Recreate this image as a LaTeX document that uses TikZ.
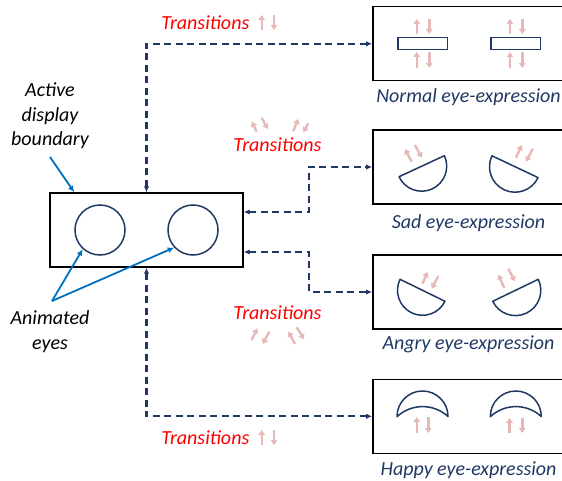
\documentclass[tikz,border=0pt]{standalone}
\usepackage{fontspec}
\setmainfont{Carlito}
\usetikzlibrary{arrows.meta,calc}
\definecolor{navy}{HTML}{203864}
\definecolor{annblue}{HTML}{0070C0}
\definecolor{tpink}{HTML}{E6B9B8}
\definecolor{tred}{HTML}{FF0000}

\begin{document}
\begin{tikzpicture}[x=1pt,y=-1pt,
  frame/.style={draw=black, line width=1.4pt, minimum width=193pt, minimum height=74pt, inner sep=0pt},
  eyering/.style={circle, draw=navy, line width=1.5pt, minimum size=50pt, inner sep=0pt},
  eyebar/.style={draw=navy, line width=1.5pt, minimum width=49.5pt, minimum height=12pt, inner sep=0pt},
  eye/.style={draw=navy, line width=1.5pt, line join=round},
  lbl/.style={font=\fontsize{20}{24.5}\selectfont\itshape, text=navy, inner sep=0pt, anchor=base},
  trn/.style={font=\fontsize{20}{24.5}\selectfont\itshape, text=tred, inner sep=0pt, anchor=base},
  note/.style={font=\fontsize{20}{24.5}\selectfont\itshape, text=black, inner sep=0pt, align=center, anchor=base},
  conn/.style={draw=navy, line width=2.2pt, dash pattern=on 7pt off 4.5pt,
    {Latex[length=6pt,width=5.5pt]}-{Latex[length=6pt,width=5.5pt]}},
  ann/.style={draw=annblue, line width=1.8pt, -{Latex[length=6.5pt,width=6pt]}},
  pk/.style={draw=tpink, line width=2.4pt, -{Triangle[length=5pt,width=6.5pt]}}
]
\useasboundingbox (0,0) rectangle (562,481);

% display and expression panels
\node[frame] (main) at (146.5,230) {};
\node[frame] (normal) at (469.3,43.8) {};
\node[frame] (sad) at (469.3,167) {};
\node[frame] (angry) at (469.3,292) {};
\node[frame] (happy) at (469.3,416.3) {};

% animated eyes
\node[eyering] (lefteye) at (100,230) {};
\node[eyering] (righteye) at (193,230) {};

% normal eyes
\node[eyebar] (normall) at (422.5,43.3) {};
\node[eyebar] (normalr) at (515.8,43.3) {};

% sad eyes
\draw[eye] (421.7,166.2) ++(-24.9:25) arc[start angle=-24.9,end angle=155.1,radius=25] -- cycle;
\draw[eye] (515,166.7) ++(25.3:25.5) arc[start angle=25.3,end angle=205.3,radius=25.5] -- cycle;

% angry eyes
\draw[eye] (422.5,290.3) ++(26.1:25) arc[start angle=26.1,end angle=206.1,radius=25] -- cycle;
\draw[eye] (515.5,290.3) ++(-25.8:25.3) arc[start angle=-25.8,end angle=154.2,radius=25.3] -- cycle;

% happy eyes
\draw[eye] (397,416.5) arc[start angle=180,end angle=360,radius=25.5]
  arc[start angle=312.6,end angle=227.4,radius=37.5] -- cycle;
\draw[eye] (490.3,416.5) arc[start angle=180,end angle=360,radius=25.5]
  arc[start angle=312.6,end angle=227.4,radius=37.5] -- cycle;

% panel captions
\node[lbl] (normaltxt) at (468.5,102.5) {Normal eye-expression};
\node[lbl] (sadtxt) at (468.5,228.3) {Sad eye-expression};
\node[lbl] (angrytxt) at (468.5,349.3) {Angry eye-expression};
\node[lbl] (happytxt) at (468.5,475) {Happy eye-expression};

% transition labels
\node[trn] (trtop) at (205.3,30) {Transitions};
\node[trn] (trsad) at (277.5,151.7) {Transitions};
\node[trn] (trangry) at (277.5,319.3) {Transitions};
\node[trn] (trhappy) at (205.3,444) {Transitions};

% annotations (base anchor sits on the last line)
\node[note] (act) at (50,146) {Active\\display\\boundary};
\node[note] (anim) at (50,349.3) {Animated\\eyes};
\coordinate (actfoot) at (50,157);
\coordinate (animhead) at (52,301);
\draw[ann] (actfoot) -- ($(main.north west)+(25,0)$);
\draw[ann] (animhead) -- (lefteye.228);
\draw[ann] (animhead) -- (righteye.223);

% transitions between display and expressions
\draw[conn] (main.north) |- (normal.west);
\draw[conn] (main.south) |- (happy.west);
\draw[conn] ($(main.east)+(0,-18)$) -- ++(65,0) |- (sad.west);
\draw[conn] ($(main.east)+(0,22)$) -- ++(65,0) |- (angry.west);

% movement cues
\draw[pk] (416.7,34) -- (416.7,19);
\draw[pk] (429.3,19) -- (429.3,34);
\draw[pk] (416.7,68) -- (416.7,52);
\draw[pk] (429.3,52) -- (429.3,68);
\draw[pk] (510,34) -- (510,19);
\draw[pk] (522.3,19) -- (522.3,34);
\draw[pk] (510,68) -- (510,52);
\draw[pk] (522.3,52) -- (522.3,68);

\draw[pk] (411.7,161.7) -- (405,149);
\draw[pk] (415,145) -- (421.7,157.7);
\draw[pk] (516,157.7) -- (521.7,145);
\draw[pk] (532.7,149) -- (526,161.7);

\draw[pk] (422.3,283.7) -- (427.7,272);
\draw[pk] (438.3,276) -- (431.7,288.7);
\draw[pk] (504.3,288) -- (498.3,274.7);
\draw[pk] (508.3,268.7) -- (515,281.3);

\draw[pk] (416.7,433) -- (416.7,417);
\draw[pk] (428.3,417) -- (428.3,433);
\draw[pk] (509.5,433) -- (509.5,418);
\draw[pk] (522.3,418) -- (522.3,433);

\draw[pk] (261.7,30) -- (261.7,15);
\draw[pk] (274,15) -- (274,30);
\draw[pk] (261.7,445) -- (261.7,430);
\draw[pk] (274,430) -- (274,445);

\draw[pk] (256.7,131.7) -- (251.7,121.7);
\draw[pk] (261.7,117.7) -- (267.7,129);
\draw[pk] (293.3,131) -- (298.3,119);
\draw[pk] (308.3,123.3) -- (303.3,132.3);

\draw[pk] (251.7,340) -- (257.3,328.3);
\draw[pk] (269.3,331.7) -- (262.7,344);
\draw[pk] (295,344) -- (288.3,331.7);
\draw[pk] (296.7,327.3) -- (304,339.3);
\end{tikzpicture}
\end{document}
